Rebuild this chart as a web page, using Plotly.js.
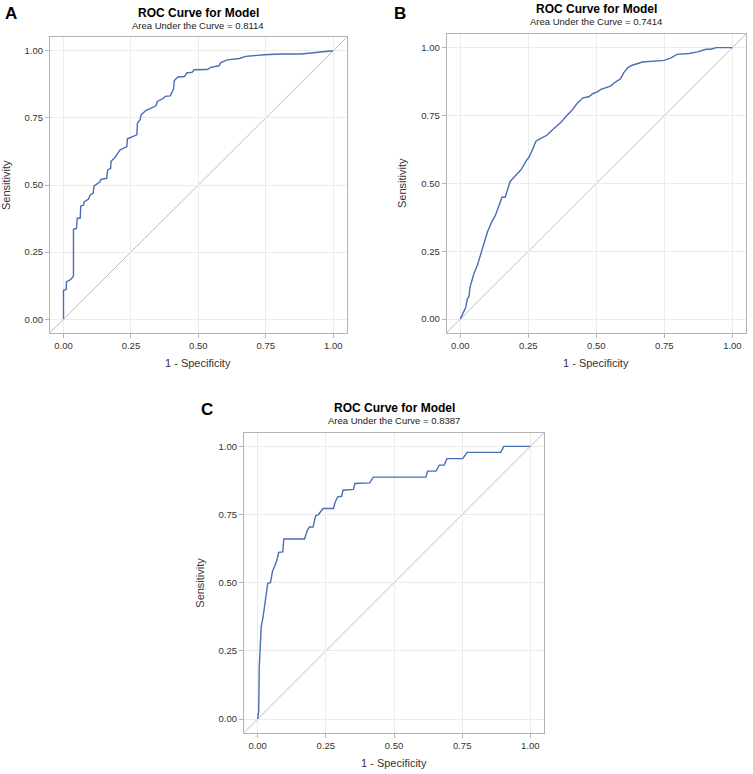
<!DOCTYPE html>
<html>
<head>
<meta charset="utf-8">
<script src="https://cdn.plot.ly/plotly-3.0.1.min.js"></script>
<style>html,body{margin:0;padding:0;background:#fff;}#chart{width:753px;height:774px;}</style>
</head>
<body>
<div id="chart"></div>
<script>
// ---- Data ----
const panelLabels = ['A', 'B', 'C'];
const chartTitle = 'ROC Curve for Model';
const aucValues = ['0.8114', '0.7414', '0.8387'];
const xAxisTitle = '1 - Specificity';
const yAxisTitle = 'Sensitivity';
const tickVals = [0, 0.25, 0.5, 0.75, 1];
const tickText = ['0.00', '0.25', '0.50', '0.75', '1.00'];

const fprA = [0,0,0.010,0.011,0.027,0.037,0.037,0.048,0.051,0.062,0.064,0.074,0.077,0.092,0.099,0.110,0.113,0.135,0.139,0.160,0.164,0.175,0.176,0.191,0.201,0.210,0.235,0.237,0.272,0.274,0.284,0.288,0.305,0.343,0.348,0.371,0.377,0.396,0.408,0.411,0.424,0.449,0.457,0.478,0.484,0.533,0.546,0.577,0.583,0.608,0.652,0.676,0.744,0.806,0.880,1.0];
const tprA = [0,0.108,0.111,0.139,0.148,0.160,0.335,0.338,0.376,0.376,0.422,0.425,0.438,0.447,0.463,0.469,0.496,0.512,0.521,0.525,0.556,0.562,0.587,0.603,0.618,0.631,0.643,0.672,0.687,0.730,0.743,0.761,0.777,0.795,0.811,0.823,0.830,0.832,0.857,0.889,0.902,0.904,0.917,0.920,0.929,0.930,0.938,0.944,0.956,0.966,0.971,0.979,0.985,0.988,0.988,1.0];

const fprB = [0,0.010,0.020,0.026,0.032,0.036,0.042,0.050,0.063,0.075,0.087,0.100,0.116,0.128,0.143,0.153,0.165,0.174,0.183,0.198,0.223,0.241,0.254,0.266,0.278,0.291,0.318,0.340,0.371,0.389,0.408,0.429,0.451,0.472,0.488,0.502,0.517,0.552,0.570,0.589,0.601,0.616,0.632,0.669,0.712,0.749,0.773,0.796,0.841,0.872,0.903,0.921,0.940,1.0];
const tprB = [0,0.020,0.044,0.075,0.084,0.118,0.137,0.168,0.199,0.242,0.285,0.322,0.359,0.380,0.420,0.449,0.449,0.476,0.507,0.523,0.550,0.581,0.599,0.626,0.655,0.663,0.677,0.698,0.726,0.747,0.766,0.794,0.815,0.819,0.831,0.836,0.846,0.858,0.873,0.885,0.908,0.926,0.935,0.947,0.951,0.953,0.961,0.975,0.978,0.984,0.994,0.994,1.0,1.0];

const fprC = [0,0.004,0.006,0.009,0.013,0.020,0.026,0.031,0.037,0.047,0.050,0.055,0.063,0.071,0.077,0.092,0.096,0.172,0.182,0.190,0.203,0.213,0.222,0.240,0.278,0.284,0.294,0.308,0.313,0.351,0.357,0.411,0.424,0.617,0.623,0.654,0.666,0.684,0.694,0.752,0.768,0.891,0.903,1.0];
const tprC = [0,0.031,0.190,0.264,0.338,0.375,0.424,0.461,0.498,0.500,0.522,0.544,0.561,0.584,0.611,0.613,0.660,0.660,0.692,0.704,0.704,0.746,0.749,0.772,0.772,0.795,0.815,0.817,0.839,0.842,0.864,0.866,0.887,0.887,0.909,0.909,0.931,0.931,0.955,0.955,0.978,0.978,1.0,1.0];

// ---- Layout helpers (pixel frames of each panel) ----
const W = 753, H = 774;
const frames = [
  {l: 50, r: 346.7, t: 37.3, b: 332.7},
  {l: 446.7, r: 746, t: 34, b: 332.7},
  {l: 244, r: 544, t: 432.7, b: 732.7}
];
const px = v => v / W;
const py = v => 1 - v / H;

const curveColor = '#4a6db5';
const fprs = [fprA, fprB, fprC];
const tprs = [tprA, tprB, tprC];

const traces = fprs.map((f, i) => ({
  type: 'scatter', mode: 'lines',
  x: f, y: tprs[i],
  xaxis: i === 0 ? 'x' : 'x' + (i + 1),
  yaxis: i === 0 ? 'y' : 'y' + (i + 1),
  line: {color: curveColor, width: 1.4},
  showlegend: false, hoverinfo: 'x+y'
}));

const axisBase = {
  range: [-0.05, 1.05],
  tickvals: tickVals, ticktext: tickText,
  showgrid: true, gridcolor: '#ececec', gridwidth: 1,
  zeroline: false,
  showline: true, mirror: true, linecolor: '#b4b4b4', linewidth: 1,
  ticks: 'outside', ticklen: 4, tickcolor: '#b4b4b4',
  tickfont: {family: 'Liberation Sans, Arial, sans-serif', size: 9.5, color: '#333'},
  automargin: false, fixedrange: true
};

const layout = {
  width: W, height: H,
  margin: {l: 0, r: 0, t: 0, b: 0},
  paper_bgcolor: '#fff', plot_bgcolor: '#fff',
  showlegend: false,
  annotations: [], shapes: []
};

const tf = 'Liberation Sans, Arial, sans-serif';
frames.forEach((fr, i) => {
  const sx = i === 0 ? '' : String(i + 1);
  layout['xaxis' + sx] = Object.assign({}, axisBase, {
    domain: [px(fr.l), px(fr.r)], anchor: 'y' + sx
  });
  layout['yaxis' + sx] = Object.assign({}, axisBase, {
    domain: [py(fr.b), py(fr.t)], anchor: 'x' + sx
  });
  // diagonal reference line, corner to corner of the frame
  layout.shapes.push({
    type: 'line', xref: 'x' + sx + ' domain', yref: 'y' + sx + ' domain',
    x0: 0, y0: 0, x1: 1, y1: 1,
    line: {color: '#bdbdbd', width: 1}, layer: 'below'
  });
  const cx = (fr.l + fr.r) / 2;
  // title
  layout.annotations.push({
    xref: 'paper', yref: 'paper', x: px(cx), y: py(fr.t - 24.5),
    xanchor: 'center', yanchor: 'middle', showarrow: false,
    text: '<b>' + chartTitle + '</b>',
    font: {family: tf, size: 12, color: '#000'}
  });
  // subtitle
  layout.annotations.push({
    xref: 'paper', yref: 'paper', x: px(cx), y: py(fr.t - 12),
    xanchor: 'center', yanchor: 'middle', showarrow: false,
    text: 'Area Under the Curve = ' + aucValues[i],
    font: {family: tf, size: 9.5, color: '#222'}
  });
  // x axis title
  layout.annotations.push({
    xref: 'paper', yref: 'paper', x: px(cx), y: py(fr.b + 30.5),
    xanchor: 'center', yanchor: 'middle', showarrow: false,
    text: xAxisTitle,
    font: {family: tf, size: 11, color: '#333'}
  });
  // y axis title
  layout.annotations.push({
    xref: 'paper', yref: 'paper', x: px(fr.l - 44), y: py((fr.t + fr.b) / 2),
    xanchor: 'center', yanchor: 'middle', showarrow: false, textangle: -90,
    text: yAxisTitle,
    font: {family: tf, size: 11, color: '#333'}
  });
});

// panel letters
const letterPos = [{x: 11, y: 14}, {x: 400, y: 13.5}, {x: 207, y: 409}];
panelLabels.forEach((lab, i) => {
  layout.annotations.push({
    xref: 'paper', yref: 'paper', x: px(letterPos[i].x), y: py(letterPos[i].y),
    xanchor: 'center', yanchor: 'middle', showarrow: false,
    text: '<b>' + lab + '</b>',
    font: {family: tf, size: 17, color: '#000'}
  });
});

Plotly.newPlot('chart', traces, layout, {displayModeBar: false, staticPlot: true});
</script>
</body>
</html>
